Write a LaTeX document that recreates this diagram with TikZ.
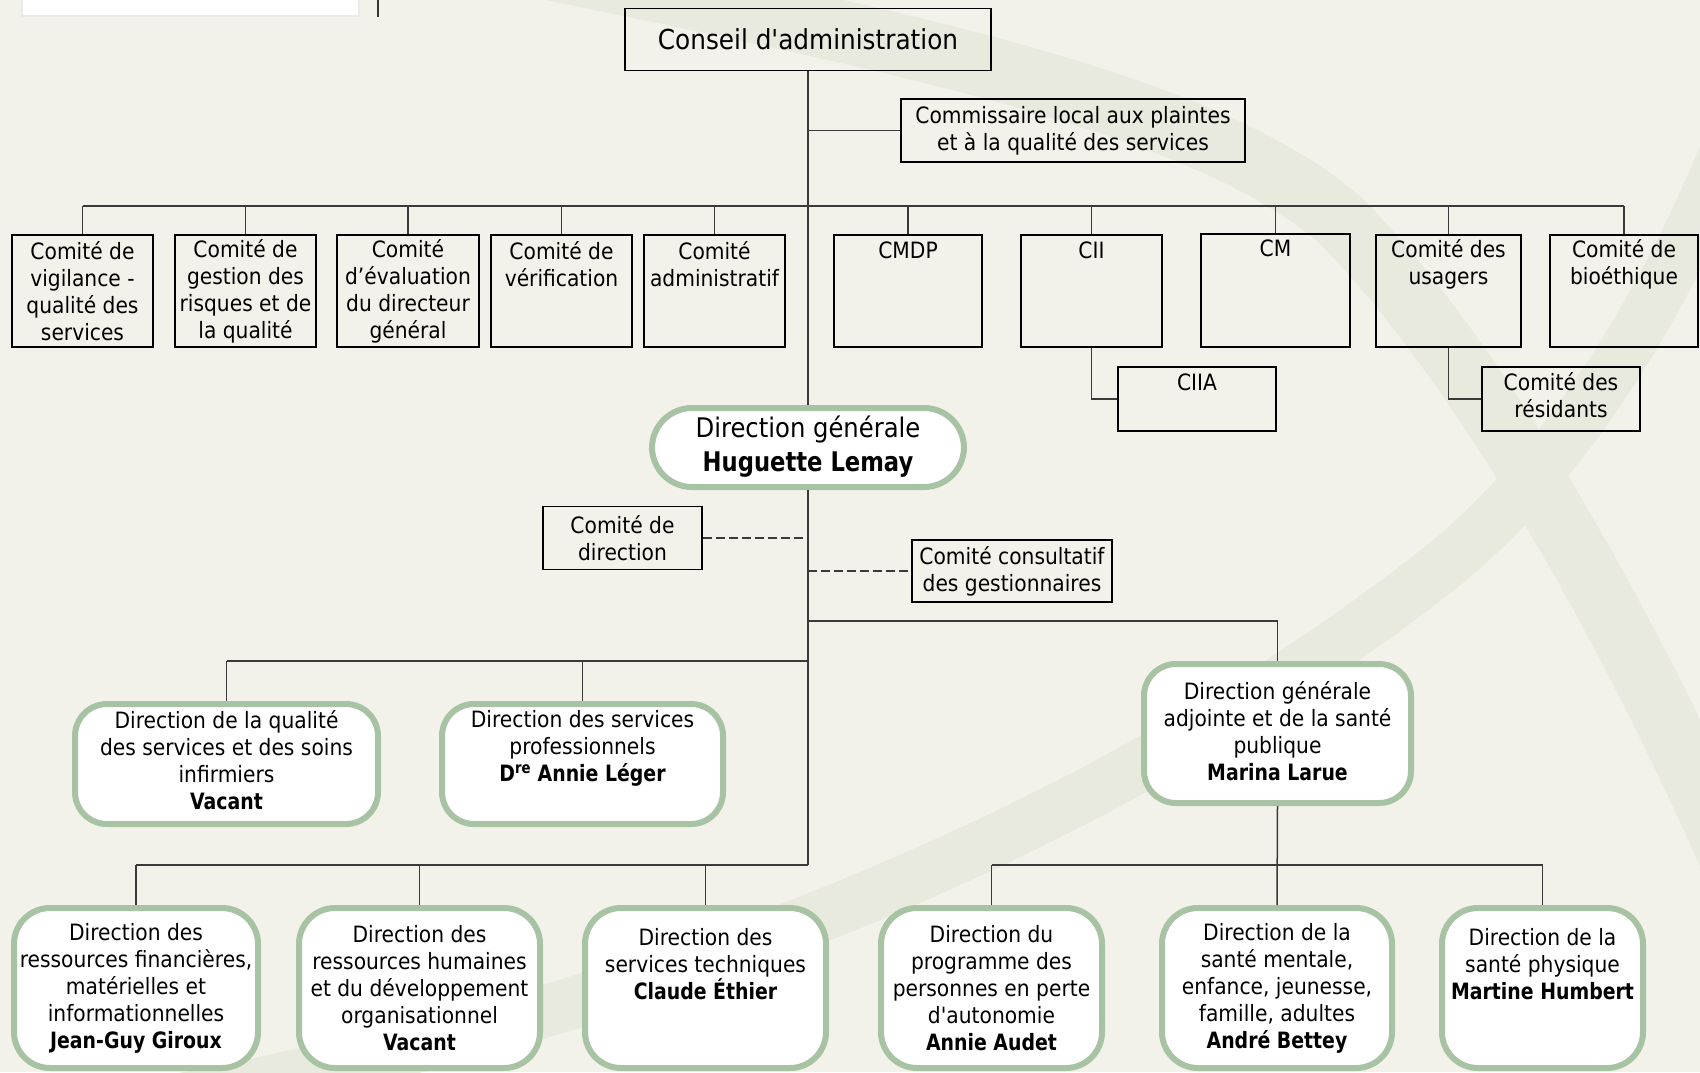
\documentclass[tikz,border=0pt]{standalone}
\usepackage{fontspec}
\setmainfont{DejaVu Sans}[FakeStretch=0.9, Ligatures=TeXOff, BoldFeatures={FakeStretch=0.84}]
\definecolor{bg}{HTML}{F2F2EA}
\definecolor{band}{HTML}{E7EADC}
\definecolor{gr}{HTML}{A8C3A3}
\definecolor{linec}{HTML}{3A3A3A}
\tikzset{
  conn/.style={draw=linec, line width=1.5pt},
  dconn/.style={draw=linec, line width=1.9pt, dash pattern=on 9pt off 4pt},
  rbox/.style={draw=black, line width=1.8pt, inner sep=0pt},
  gbox/.style={draw=gr, fill=white, line width=6pt, rounded corners=32pt, inner sep=0pt},
  txt/.style={align=center, inner sep=0pt, text=black, font=\fontsize{22.5}{27}\selectfont},
  bigtxt/.style={align=center, inner sep=0pt, text=black, font=\fontsize{27}{34}\selectfont},
  bandline/.style={draw=band, line width=62pt, line cap=butt},
}
\begin{document}
\begin{tikzpicture}[x=1pt,y=-1pt]
\useasboundingbox (0,0) rectangle (1700,1072);
\fill[bg] (0,0) rectangle (1700,1072);
% background swooshes
\begin{scope}
\clip (0,0) rectangle (1700,1072);
\draw[bandline] (430,-55) .. controls (900,40) and (1200,100) .. (1340,220)
   .. controls (1450,330) and (1600,560) .. (1740,880);
\draw[bandline, line width=52pt] (120,1110) .. controls (700,1010) and (1150,800) .. (1450,560)
   .. controls (1580,450) and (1680,280) .. (1750,90);
\end{scope}
% top-left fragment
\node[draw=band!80!black!30, fill=white, line width=2pt, minimum width=337pt, minimum height=40pt, inner sep=0pt] (frag) at (190.5,-4) {};
\coordinate (vtop) at (378,0);
\coordinate (vbot) at (378,17);
\draw[draw=black!80!olive, line width=2pt] (vtop) -- (vbot);

% ---------- boxes ----------
\node[rbox, minimum width=366pt, minimum height=62pt] (ca) at (808,39.5) {};
\node[bigtxt, font=\fontsize{27.5}{33}\selectfont] (cat) at (808,39.5) {Conseil d'administration};

\node[rbox, minimum width=344pt, minimum height=63pt] (com) at (1073,130.5) {};
\node[txt] (comt) at (1073,130.5) {Commissaire local aux plaintes\\et à la qualité des services};

% committees
\node[rbox, minimum width=141pt, minimum height=112pt] (c1) at (82.5,291) {};
\node[rbox, minimum width=141pt, minimum height=112pt] (c2) at (245.5,291) {};
\node[rbox, minimum width=142pt, minimum height=112pt] (c3) at (408,291) {};
\node[rbox, minimum width=141pt, minimum height=112pt] (c4) at (561.5,291) {};
\node[rbox, minimum width=141pt, minimum height=112pt] (c5) at (714.5,291) {};
\node[rbox, minimum width=148pt, minimum height=112pt] (c6) at (908,291) {};
\node[rbox, minimum width=141pt, minimum height=112pt] (c7) at (1091.5,291) {};
\node[rbox, minimum width=149pt, minimum height=113pt] (c8) at (1275.5,290.5) {};
\node[rbox, minimum width=145pt, minimum height=112pt] (c9) at (1448.5,291) {};
\node[rbox, minimum width=148pt, minimum height=112pt] (c10) at (1624,291) {};

\node[txt] (c1t) at (82.5,291.5) {Comité de\\vigilance -\\qualité des\\services};
\node[txt] (c2t) at (245.5,291.5) {Comité de\\gestion des\\risques et de\\la qualité};
\node[txt] (c3t) at (408,291.5) {Comité\\d’évaluation\\du directeur\\général};
\node[txt] (c4t) at (561.5,264) {Comité de\\vérification};
\node[txt] (c5t) at (714.5,264) {Comité\\administratif};
\node[txt] (c6t) at (908,250.5) {CMDP};
\node[txt] (c7t) at (1091.5,250.5) {CII};
\node[txt] (c8t) at (1275.5,248.5) {CM};
\node[txt] (c9t) at (1448.5,264) {Comité des\\usagers};
\node[txt] (c10t) at (1624,264) {Comité de\\bioéthique};

\node[rbox, minimum width=158pt, minimum height=64pt] (ciia) at (1197,399) {};
\node[txt] (ciiat) at (1197,382) {CIIA};
\node[rbox, minimum width=158pt, minimum height=64pt] (res) at (1561,399) {};
\node[txt] (rest) at (1561,395.5) {Comité des\\résidants};

% Direction generale
\node[gbox, rounded corners=40pt, minimum width=312pt, minimum height=79pt] (dg) at (808,447.5) {};
\node[bigtxt] (dgt) at (808,447) {Direction générale\\\textbf{Huguette Lemay}};

\node[rbox, minimum width=159pt, minimum height=63pt] (cd) at (622.5,538) {};
\node[txt] (cdt) at (622.5,538.5) {Comité de\\direction};
\node[rbox, minimum width=200pt, minimum height=62pt] (cc) at (1012,571) {};
\node[txt] (cct) at (1012,571) {Comité consultatif\\des gestionnaires};

% second level
\node[gbox, minimum width=303pt, minimum height=120pt] (dq) at (226.5,764) {};
\node[txt] (dqt) at (226.5,760) {Direction de la qualité\\des services et des soins\\infirmiers\\\textbf{Vacant}};
\node[gbox, minimum width=281pt, minimum height=120pt] (dsp) at (582.5,764) {};
\node[txt] (dspt) at (582.5,748) {Direction des services\\professionnels\\\textbf{D\textsuperscript{re} Annie Léger}};
\node[gbox, minimum width=267pt, minimum height=139pt] (dga) at (1277.5,733.5) {};
\node[txt] (dgat) at (1277.5,731.5) {Direction générale\\adjointe et de la santé\\publique\\\textbf{Marina Larue}};

% bottom level
\node[gbox, rounded corners=36pt, minimum width=244pt, minimum height=160pt] (drf) at (136,988) {};
\node[txt] (drft) at (136,988.5) {Direction des\\ressources financières,\\matérielles et\\informationnelles\\\textbf{Jean-Guy Giroux}};
\node[gbox, rounded corners=36pt, minimum width=241pt, minimum height=160pt] (drh) at (419.5,988) {};
\node[txt] (drht) at (419.5,988.5) {Direction des\\ressources humaines\\et du développement\\organisationnel\\\textbf{Vacant}};
\node[gbox, rounded corners=36pt, minimum width=241pt, minimum height=160pt] (dst) at (705.5,988) {};
\node[txt] (dstt) at (705.5,964.5) {Direction des\\services techniques\\\textbf{Claude Éthier}};
\node[gbox, rounded corners=36pt, minimum width=221pt, minimum height=160pt] (dppa) at (991.5,988) {};
\node[txt] (dppat) at (991.5,988.5) {Direction du\\programme des\\personnes en perte\\d'autonomie\\\textbf{Annie Audet}};
\node[gbox, rounded corners=36pt, minimum width=230pt, minimum height=160pt] (dsm) at (1277,988) {};
\node[txt] (dsmt) at (1277,988.5) {Direction de la\\santé mentale,\\enfance, jeunesse,\\famille, adultes\\\textbf{André Bettey}};
\node[gbox, rounded corners=36pt, minimum width=201pt, minimum height=160pt] (dsph) at (1542.5,988) {};
\node[txt] (dspht) at (1542.5,964.5) {Direction de la\\santé physique\\\textbf{Martine Humbert}};

% ---------- connectors ----------
\coordinate (busT) at (808,206);
\coordinate (busCom) at (808,130.5);
\coordinate (cdend) at (803,538);
\coordinate (ccstart) at (808,571);
\coordinate (busDGA) at (808,621);
\coordinate (busMid) at (808,661);
\coordinate (busBot) at (808,865);
\coordinate (busR) at (1277,865);

\draw[conn] (ca.south) -- (dg.north);
\draw[conn] (dg.south) -- (busBot);
\draw[conn] (busCom) -- (com.west);
\draw[conn] (c1.north |- busT) -- (c10.north |- busT);
\foreach \c in {c1,c2,c3,c4,c5,c6,c7,c8,c9,c10}
  \draw[conn] (\c.north |- busT) -- (\c.north);
\draw[conn] (c7.south) |- (ciia.west);
\draw[conn] (c9.south) |- (res.west);
\draw[dconn] (cd.east) -- (cdend);
\draw[dconn] (ccstart) -- (cc.west);
\draw[conn] (busDGA) -| (dga.north);
\draw[conn] (dq.north |- busMid) -- (busMid);
\draw[conn] (dq.north |- busMid) -- (dq.north);
\draw[conn] (dsp.north |- busMid) -- (dsp.north);
\draw[conn] (drf.north |- busBot) -- (busBot);
\foreach \c in {drf,drh,dst}
  \draw[conn] (\c.north |- busBot) -- (\c.north);
\draw[conn] (dga.south) -- (dsm.north);
\draw[conn] (dppa.north |- busR) -- (dsph.north |- busR);
\draw[conn] (dppa.north |- busR) -- (dppa.north);
\draw[conn] (dsph.north |- busR) -- (dsph.north);
\end{tikzpicture}
\end{document}
